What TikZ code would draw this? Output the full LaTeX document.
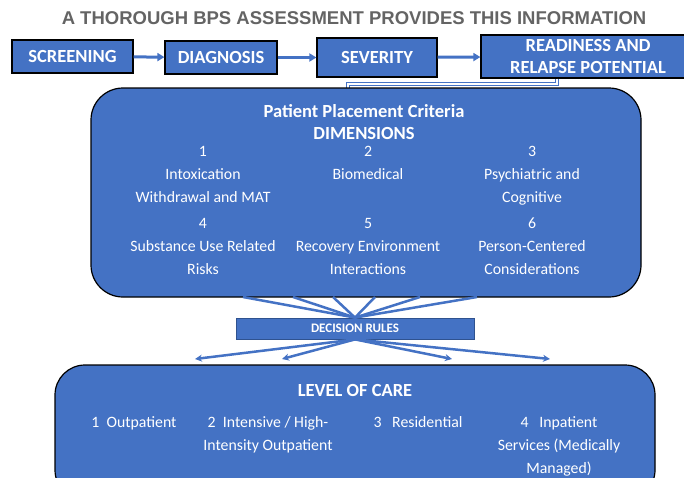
\documentclass[tikz,border=0pt]{standalone}
\usepackage{fontspec}
\setmainfont{Carlito}
\newfontfamily\arialfont{Liberation Sans}
\usetikzlibrary{arrows.meta, positioning, calc}
\definecolor{bpsblue}{HTML}{4472C4}
\definecolor{bpsdark}{HTML}{2F528F}
\definecolor{bpsgray}{HTML}{646464}
\newcommand{\headfont}{\fontsize{18.5}{22}\selectfont\bfseries}
\newcommand{\bodyfont}{\fontsize{15.8}{23}\selectfont}

\begin{document}
\begin{tikzpicture}[x=1pt, y=-1pt,
    stepbox/.style={draw=black, line width=1.2pt, fill=bpsblue, text=white,
                    font=\headfont, align=center, inner sep=0pt},
    panel/.style={draw=black, line width=1.2pt, fill=bpsblue,
                  rounded corners=32pt, inner sep=0pt},
    dimtext/.style={text=white, font=\bodyfont, align=center, anchor=north,
                    inner sep=0pt, execute at begin node=\strut,
                    execute at end node=\strut},
    headtext/.style={dimtext, font=\headfont},
    rulebox/.style={draw=bpsdark, line width=0.8pt, fill=bpsblue, text=white,
                    font=\fontsize{13}{15}\selectfont\bfseries, inner sep=0pt},
    flow/.style={-{Triangle[length=7pt,width=8pt]}, line width=3pt, bpsblue},
    fan/.style={line width=2.5pt, bpsblue},
    fanarrow/.style={fan, -{Stealth[length=7pt,width=7pt]}},
    link/.style={draw=bpsblue, double=white, double distance=1.4pt, line width=1.3pt}]
  \useasboundingbox (0,0) rectangle (684,477);
  \clip (0,0) rectangle (684,477);

  \node[font=\arialfont\fontsize{18.5}{22}\selectfont\bfseries, text=bpsgray,
        anchor=base, inner sep=0pt] (title) at (354,24)
    {A THOROUGH BPS ASSESSMENT PROVIDES THIS INFORMATION};

  \node[stepbox, minimum width=121pt, minimum height=33pt] (screen) at (72.5,56.5) {SCREENING};
  \node[stepbox, minimum width=112pt, minimum height=33pt] (diag) at (221,57.5) {DIAGNOSIS};
  \node[stepbox, minimum width=120pt, minimum height=39pt] (sever) at (377,57.5) {SEVERITY};
  \node[stepbox, minimum width=214pt, minimum height=43pt] (ready) at (588,56.5)
    {READINESS AND\\RELAPSE POTENTIAL};
  \draw[flow] (screen) -- (diag);
  \draw[flow] (diag) -- (sever);
  \draw[flow] (sever) -- (ready);

  \coordinate (bend) at (348,84);
  \draw[link] ([xshift=-31pt]ready.south) |- (bend) -- (348,90);

  \node[panel, minimum width=550pt, minimum height=209pt] (crit) at (366,192.5) {};
  \node[headtext] (crithead) at (364,104.6) {Patient Placement Criteria\\DIMENSIONS};
  \node[dimtext] (d1) at (203,146) {1\\Intoxication\\Withdrawal and MAT};
  \node[dimtext] (d2) at (368,146) {2\\Biomedical};
  \node[dimtext] (d3) at (532,146) {3\\Psychiatric and\\Cognitive};
  \node[dimtext] (d4) at (203,218) {4\\Substance Use Related\\Risks};
  \node[dimtext] (d5) at (368,218) {5\\Recovery Environment\\Interactions};
  \node[dimtext] (d6) at (532,218) {6\\Person-Centered\\Considerations};

  \node[rulebox, minimum width=238pt, minimum height=21pt] (rules) at (355,328.5) {DECISION RULES};
  \foreach \x [count=\i] in {243,293,333,375,420,477} {
    \coordinate (up\i) at (\x,297);
    \draw[fan] (up\i) -- (rules.north);
  }
  \foreach \x [count=\i] in {195,282,452,550} {
    \coordinate (tip\i) at (\x,359);
    \draw[fanarrow] (rules.south) -- (tip\i);
  }

  \node[panel, rounded corners=30pt, minimum width=600pt, minimum height=135pt] (care) at (355,432.5) {};
  \node[headtext] (carehead) at (355,380.6) {LEVEL OF CARE};
  \node[dimtext] (c1) at (134,411) {1\ \ Outpatient};
  \node[dimtext] (c2) at (268,416) {2\ \ Intensive / High-\\Intensity Outpatient};
  \node[dimtext] (c3) at (418,411) {3\ \ \ Residential};
  \node[dimtext] (c4) at (559,416) {4\ \ \ Inpatient\\Services (Medically\\Managed)};
\end{tikzpicture}
\end{document}
